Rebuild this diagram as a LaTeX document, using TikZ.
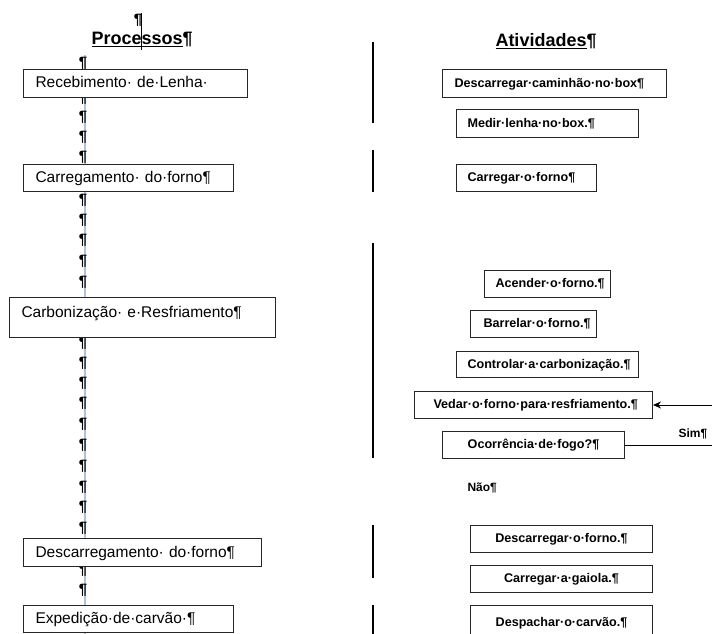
\documentclass[tikz,border=0pt]{standalone}
\usepackage{fontspec}
\setmainfont{Liberation Sans}
\usetikzlibrary{arrows.meta}
\definecolor{barra}{RGB}{175,195,215}
\hyphenpenalty=10000
\exhyphenpenalty=10000

\begin{document}
\begin{tikzpicture}[x=1pt,y=-1pt,line width=1pt]
	\useasboundingbox (0,0) rectangle (712,634);
	\clip (0,0) rectangle (712,634);
	\tikzset{MarcaStyle/.style={font=\bfseries\fontsize{15}{15}\selectfont, inner sep=0pt},
		TituloStyle/.style={font=\bfseries\fontsize{18}{18}\selectfont, inner sep=0pt, anchor=base west},
		ProcStyle/.style={draw=black!85, fill=white, anchor=north west, align=left, inner xsep=12pt, inner ysep=0pt,
			font=\fontsize{15.5}{16}\selectfont, text height=11pt, text depth=2pt},
		AtivStyle/.style={draw=black!85, fill=white, anchor=north west, align=left, inner ysep=0pt,
			font=\bfseries\fontsize{12.6}{13}\selectfont, text height=9pt, text depth=2pt},
		RotuloStyle/.style={font=\bfseries\fontsize{12}{12}\selectfont, inner sep=0pt, anchor=base west},
		FluxoStyle/.style={-{Stealth[length=8pt,width=7pt]}, black}}
	\draw[barra, line width=1.2pt] (85,55) -- (85,634);
	\foreach \y in {63,98,117,137,157,200,220,240,261,282,343,363,383,403,424,445,466,487,507,528,570,590}
		\node[MarcaStyle] (marca\y) at (83,\y) {¶};
	\node[TituloStyle] (processos) at (91,45) {\underline{Processos}¶};
	\node[TituloStyle] (atividades) at (495,47) {\underline{Atividades}¶};
	\node[MarcaStyle] (topo) at (138,20) {¶};
	\draw[line width=0.8pt] (141,13) -- (141,50);
	\node[ProcStyle, text width=200pt, minimum height=28pt] (recebimento) at (23,69) {Recebimento· de·Lenha·};
	\node[ProcStyle, text width=186pt, minimum height=27pt] (carregamento) at (23,164) {Carregamento· do·forno¶};
	\node[ProcStyle, text width=242pt, minimum height=40pt, text height=12pt, text depth=12pt] (carbonizacao) at (9,297) {Carbonização· e·Resfriamento¶};
	\node[ProcStyle, text width=214pt, minimum height=28pt] (descarregamento) at (23,538) {Descarregamento· do·forno¶};
	\node[ProcStyle, text width=186pt, minimum height=27pt] (expedicao) at (23,605) {Expedição·de·carvão·¶};
	\node[AtivStyle, inner xsep=12pt, text width=200pt, minimum height=28pt] (caminhao) at (442,69) {Descarregar·caminhão·no·box¶};
	\node[AtivStyle, inner xsep=11pt, text width=160pt, minimum height=28pt] (medir) at (456,109) {Medir·lenha·no·box.¶};
	\node[AtivStyle, inner xsep=11pt, text width=118pt, minimum height=27pt] (carregarforno) at (456,164) {Carregar·o·forno¶};
	\node[AtivStyle, inner xsep=11pt, text width=104pt, minimum height=27pt] (acender) at (484,270) {Acender·o·forno.¶};
	\node[AtivStyle, inner xsep=13pt, text width=100pt, minimum height=27pt] (barrelar) at (470,310) {Barrelar·o·forno.¶};
	\node[AtivStyle, inner xsep=11pt, text width=160pt, minimum height=26pt] (controlar) at (456,351) {Controlar·a·carbonização.¶};
	\node[AtivStyle, inner xsep=19pt, text width=200pt, minimum height=27pt] (vedar) at (414,391) {Vedar·o·forno·para·resfriamento.¶};
	\node[AtivStyle, align=center, inner xsep=4pt, text width=174pt, minimum height=27pt] (ocorrencia) at (442,431) {Ocorrência·de·fogo?¶};
	\node[AtivStyle, align=center, inner xsep=4pt, text width=174pt, minimum height=27pt] (descarregar) at (470,525) {Descarregar·o·forno.¶};
	\node[AtivStyle, align=center, inner xsep=4pt, text width=174pt, minimum height=27pt] (gaiola) at (470,565) {Carregar·a·gaiola.¶};
	\node[AtivStyle, align=center, inner xsep=4pt, text width=174pt, minimum height=34pt] (despachar) at (470,605) {Despachar·o·carvão.¶};
	\foreach \a/\b in {42/123,150/192,243/458,525/578,605/640}
		\draw[line width=1.2pt] (373,\a) -- (373,\b);
	\draw[FluxoStyle] (ocorrencia.east) -- ++(106,0) |- (vedar.east);
	\node[RotuloStyle] (sim) at (678,437) {Sim¶};
	\node[RotuloStyle] (nao) at (467,491) {Não¶};
\end{tikzpicture}
\end{document}
